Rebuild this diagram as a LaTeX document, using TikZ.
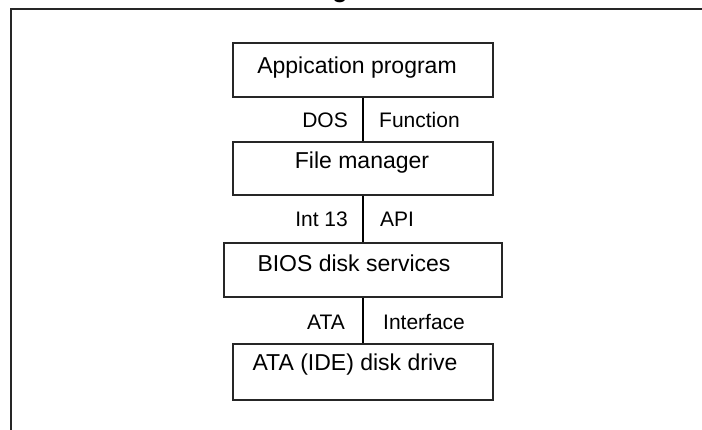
\documentclass[tikz,border=0pt]{standalone}
\usepackage{fontspec}
\setmainfont{Liberation Sans}
\begin{document}
\begin{tikzpicture}[x=1pt,y=-1pt,
  layer/.style={draw=black!85,line width=1.2pt,inner sep=0pt},
  conn/.style={draw=black,line width=2.4pt},
  boxtext/.style={inner sep=0pt,font=\fontsize{23}{26}\selectfont},
  ifacel/.style={inner sep=0pt,anchor=east,font=\fontsize{21}{24}\selectfont},
  ifacer/.style={inner sep=0pt,anchor=west,font=\fontsize{21}{24}\selectfont}]
  \useasboundingbox (0,0) rectangle (702,429);
  \fill[white] (0,0) rectangle (702,429);

  % outer frame (runs off the page on the right and bottom)
  \draw[line width=1.5pt,black!85] (730,9) -- (11,9) -- (11,440);
  % heading above the frame, only its descender shows
  \node[inner sep=0pt,anchor=base,font=\bfseries\fontsize{25}{28}\selectfont] (title) at (340,-2.5) {g};

  % layer boxes
  \node[layer,minimum width=260pt,minimum height=54pt] (app)  at (363,70)    {};
  \node[layer,minimum width=260pt,minimum height=53pt] (fm)   at (363,168.5) {};
  \node[layer,minimum width=278pt,minimum height=54pt] (bios) at (363,270)   {};
  \node[layer,minimum width=260pt,minimum height=56pt] (ata)  at (363,372)   {};

  \node[boxtext] (appt)  at (357,68)  {Appication program};
  \node[boxtext] (fmt)   at (362,163) {File manager};
  \node[boxtext] (biost) at (354,263) {BIOS disk services};
  \node[boxtext] (atat)  at (355,365) {ATA (IDE) disk drive};

  % interfaces between layers
  \draw[conn] (app.south) -- (fm.north);
  \draw[conn] (fm.south) -- (bios.north);
  \draw[conn] (bios.south) -- (ata.north);

  \node[ifacel] (dos)  at (348,120) {DOS};
  \node[ifacer] (func) at (379,120) {Function};
  \node[ifacel] (int)  at (348,219) {Int 13};
  \node[ifacer] (api)  at (380,219) {API};
  \node[ifacel] (atal) at (345,322) {ATA};
  \node[ifacer] (intf) at (383,322) {Interface};
\end{tikzpicture}
\end{document}
